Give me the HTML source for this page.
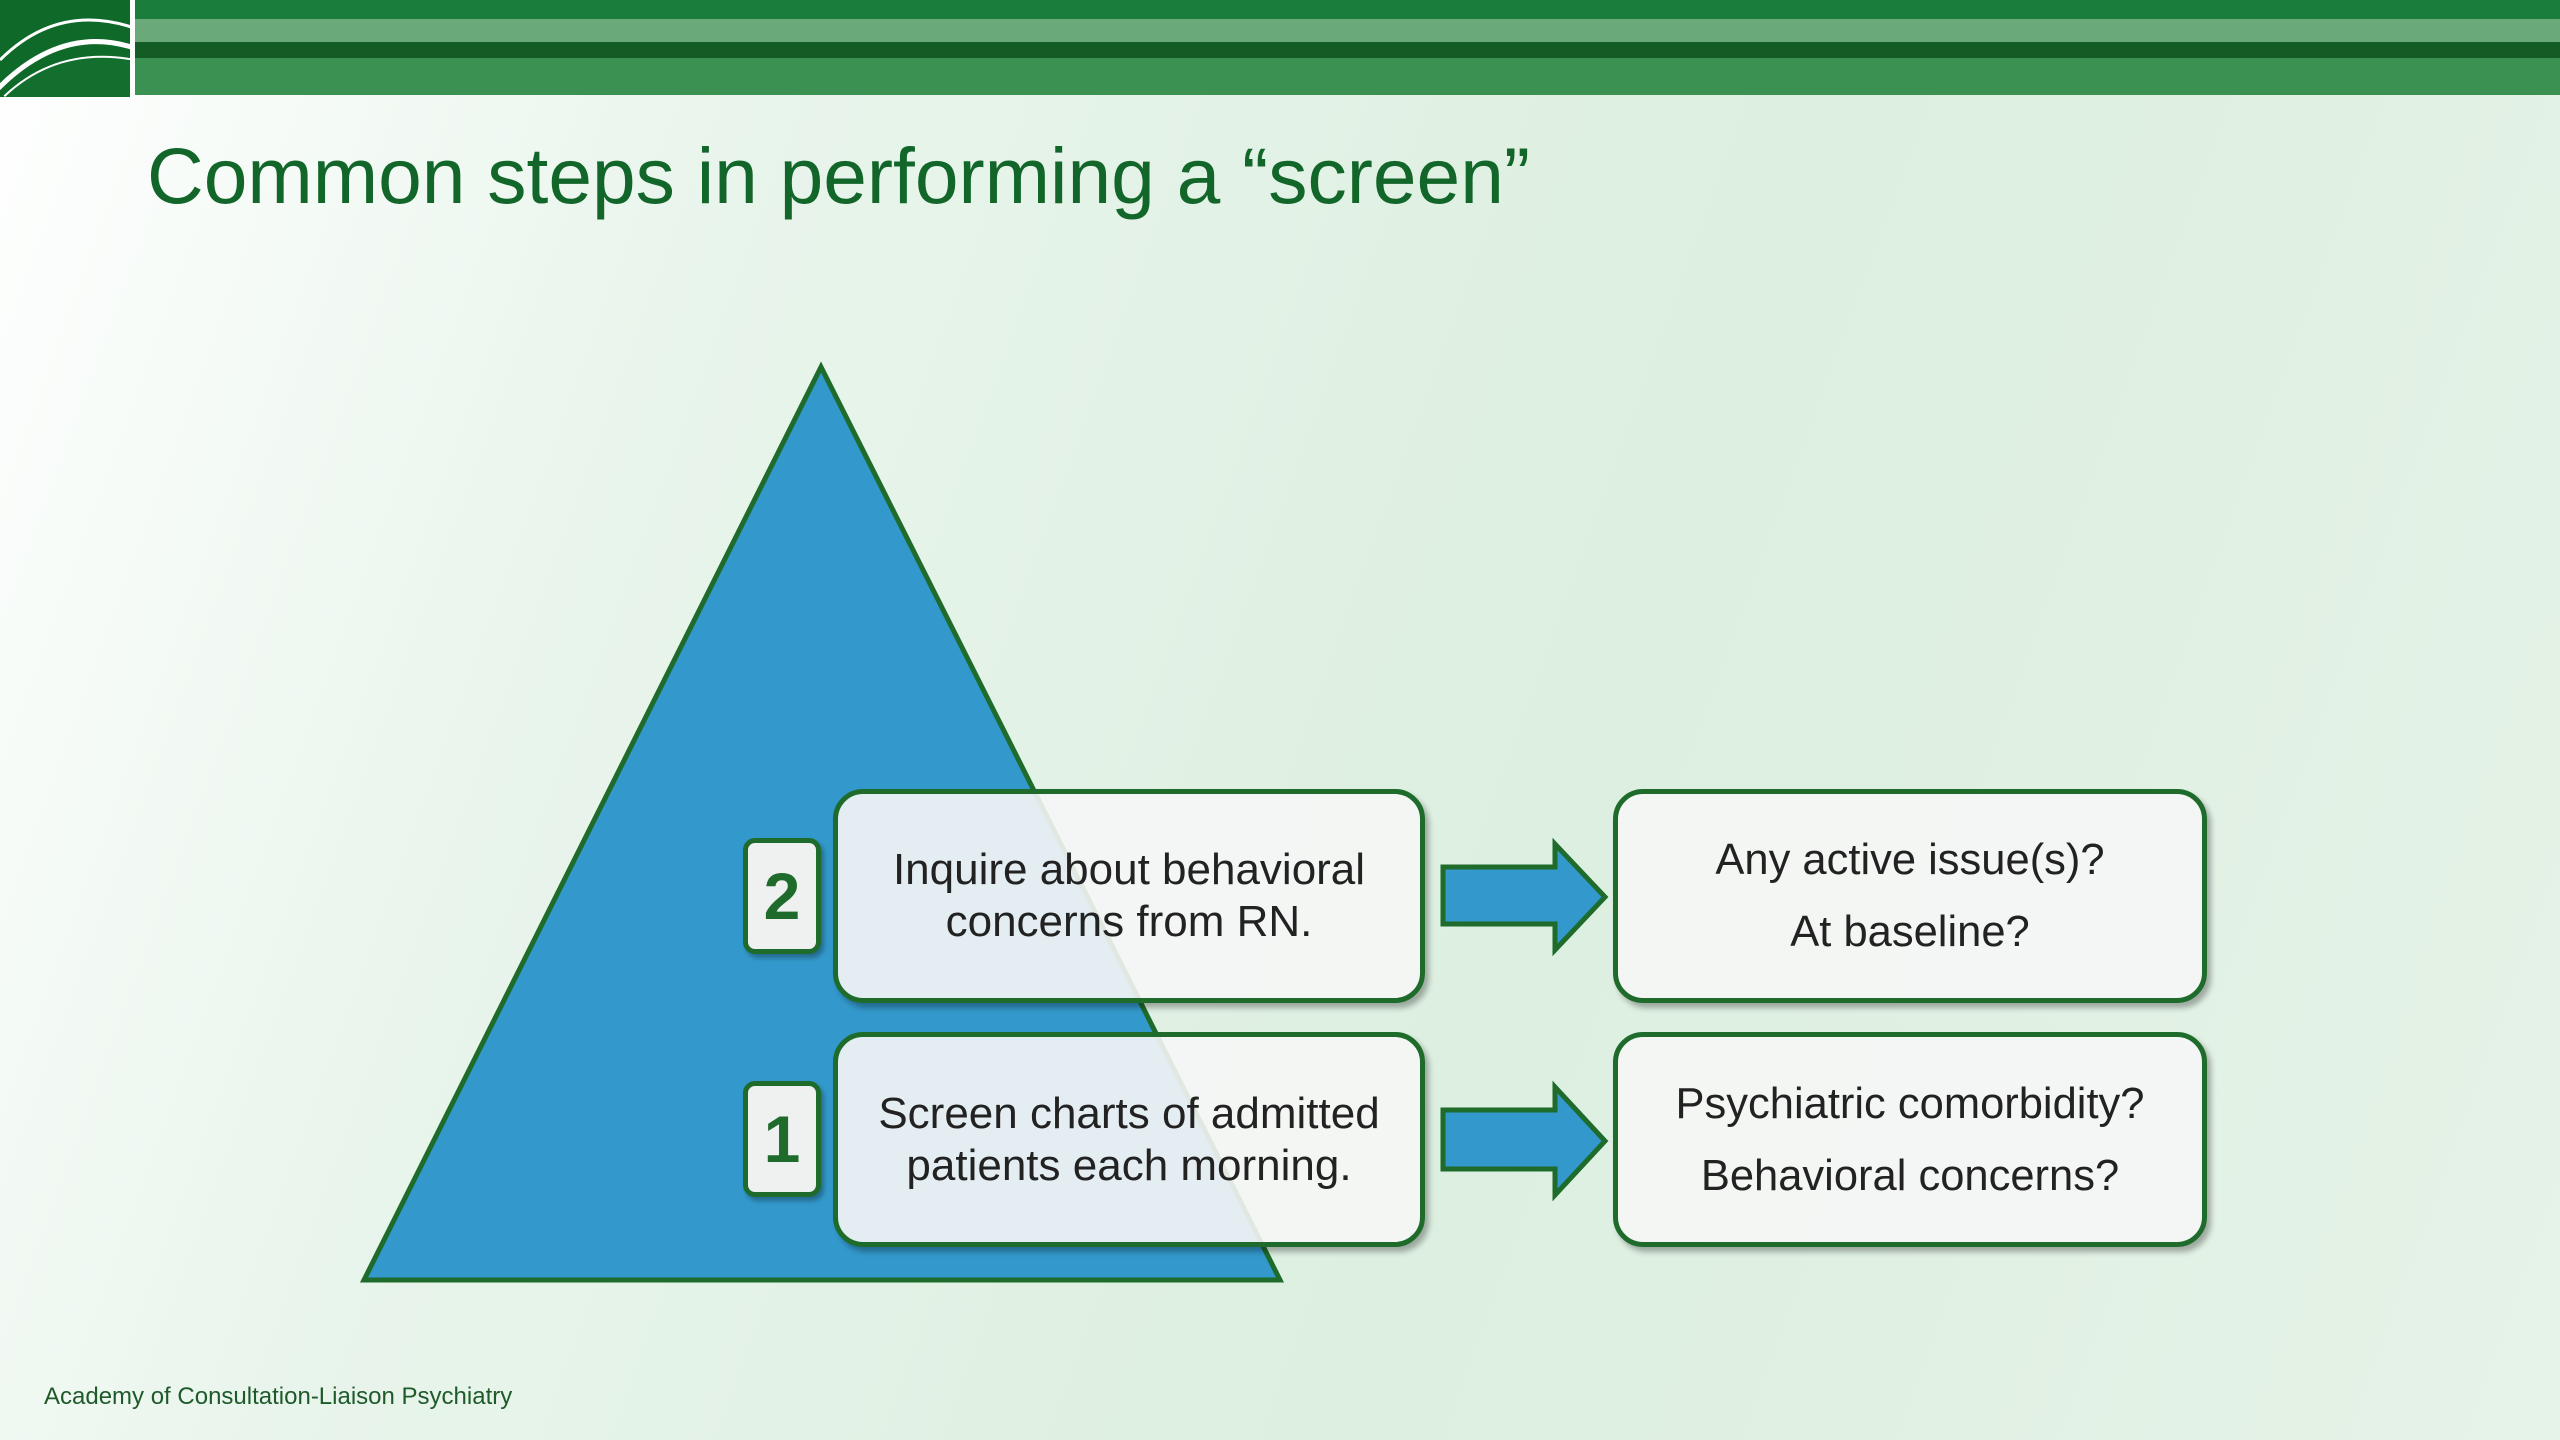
<!DOCTYPE html>
<html><head><meta charset="utf-8"><style>
html,body{margin:0;padding:0}
body{width:2560px;height:1440px;position:relative;overflow:hidden;font-family:"Liberation Sans",sans-serif;
background:linear-gradient(110deg,#ffffff 0%,#e9f5ec 25%,#dcefe0 60%,#e6f3e8 100%);}
.abs{position:absolute}
.box{position:absolute;box-sizing:border-box;border:5px solid #1e6b2c;border-radius:30px;background:rgba(246,246,246,0.9);
box-shadow:4px 5px 6px rgba(0,0,0,0.3);display:flex;flex-direction:column;align-items:center;justify-content:center;text-align:center;color:#222;font-size:43.5px;line-height:52px}
.badge{position:absolute;box-sizing:border-box;border:5px solid #1e6b2c;border-radius:12px;background:#eef1ef;box-shadow:3px 4px 5px rgba(0,0,0,0.3);
color:#1e6b2c;font-weight:bold;font-size:66px;display:flex;align-items:center;justify-content:center}
</style></head><body>
<div class="abs" style="left:0;top:0;width:130px;height:97px;background:#0f6a2a;overflow:hidden">
<svg width="130" height="97"><path d="M-10 97 Q60 20 140 50" stroke="#fff" stroke-width="5" fill="none"/><path d="M0 60 Q60 0 140 30" stroke="#fff" stroke-width="3" fill="none"/><path d="M5 97 Q60 45 140 62" stroke="#fff" stroke-width="4" fill="none"/><path d="M5 97 Q60 45 140 62 L140 97Z" fill="#136f2e"/></svg>
</div>
<div class="abs" style="left:135px;top:0;right:0;height:19px;background:#1b7d3b"></div>
<div class="abs" style="left:135px;top:19px;right:0;height:23px;background:#6aaa7a"></div>
<div class="abs" style="left:135px;top:42px;right:0;height:16px;background:#145c25"></div>
<div class="abs" style="left:135px;top:58px;right:0;height:37px;background:#3a9152"></div>
<div class="abs" style="left:147px;top:131px;font-size:78.5px;color:#12662a">Common steps in performing a “screen”</div>
<svg class="abs" style="left:0;top:0" width="2560" height="1440">
<polygon points="821,367 364,1280 1280,1280" fill="#3399cc" stroke="#1e6b2c" stroke-width="5" stroke-linejoin="miter"/>
<polygon points="1443,867 1555,867 1555,844 1605,897 1555,950 1555,924 1443,924" fill="#3399cc" stroke="#1e6b2c" stroke-width="5"/>
<polygon points="1443,1110 1555,1110 1555,1087 1605,1141 1555,1195 1555,1169 1443,1169" fill="#3399cc" stroke="#1e6b2c" stroke-width="5"/>
</svg>
<div class="badge" style="left:743px;top:838px;width:78px;height:116px">2</div>
<div class="badge" style="left:743px;top:1081px;width:78px;height:116px">1</div>
<div class="box" style="left:833px;top:789px;width:592px;height:214px;font-size:44px"><div>Inquire about behavioral</div><div>concerns from RN.</div></div>
<div class="box" style="left:833px;top:1032px;width:592px;height:215px;font-size:44px"><div>Screen charts of admitted</div><div>patients each morning.</div></div>
<div class="box" style="left:1613px;top:789px;width:594px;height:214px;line-height:72px"><div>Any active issue(s)?</div><div>At baseline?</div></div>
<div class="box" style="left:1613px;top:1032px;width:594px;height:215px;line-height:72px"><div>Psychiatric comorbidity?</div><div>Behavioral concerns?</div></div>
<div class="abs" style="left:44px;top:1383px;font-size:24px;color:#1e5a2a">Academy of Consultation-Liaison Psychiatry</div>
</body></html>
